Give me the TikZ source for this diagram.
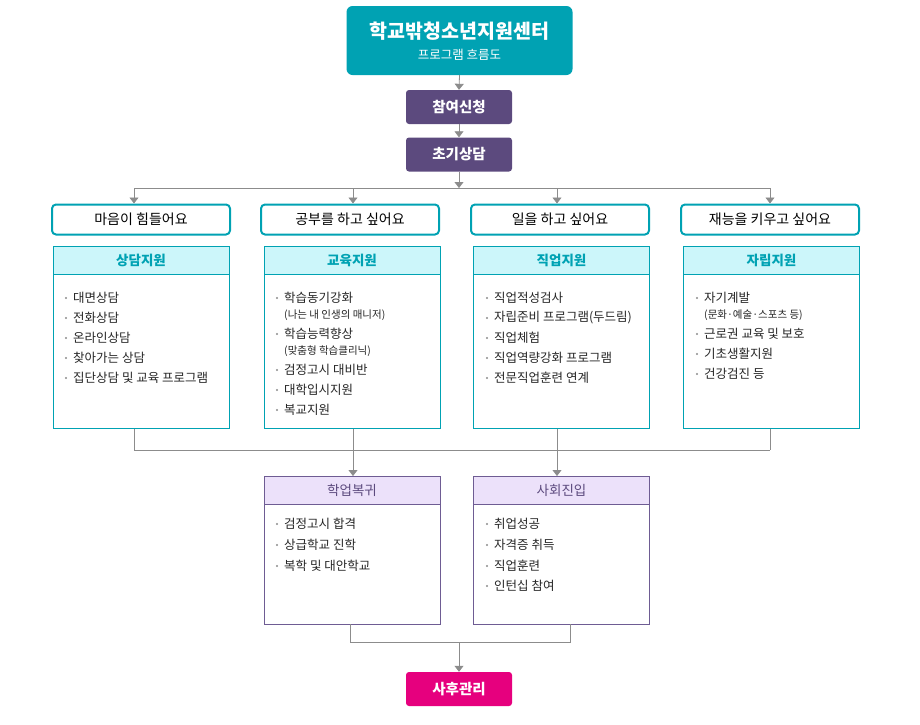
\documentclass[tikz,border=0pt]{standalone}
\usepackage{fontspec}
\setmainfont{Noto Sans CJK KR}
\usetikzlibrary{arrows.meta}
\definecolor{teal0}{HTML}{00A2B3}
\definecolor{cyanbg}{HTML}{CCF6FA}
\definecolor{purp0}{HTML}{5C4A7E}
\definecolor{purpline}{HTML}{6E5C93}
\definecolor{lavbg}{HTML}{ECE1FA}
\definecolor{pink0}{HTML}{E6007E}
\definecolor{linegray}{HTML}{8C8C8C}
\tikzset{
  step/.style={fill=#1, rounded corners=3pt, text=white, font=\bfseries\fontsize{14.5}{16}\selectfont,
    minimum width=106pt, minimum height=34pt, inner sep=0pt},
  ask/.style={draw=teal0, line width=2pt, fill=white, rounded corners=4pt,
    minimum width=178pt, minimum height=30pt, inner sep=0pt, font=\fontsize{14}{16}\selectfont},
  supp/.style={draw=#1, line width=0.8pt, fill=white, minimum width=176pt, minimum height=182pt,
    inner sep=0pt, anchor=north},
  head/.style={draw=#1, line width=0.8pt, minimum width=176pt, minimum height=28pt, inner sep=0pt,
    anchor=north, font=\bfseries\fontsize{13.5}{15}\selectfont},
  item/.style={anchor=west, inner sep=0pt, font=\fontsize{12.5}{14}\selectfont, text=black!85},
  note/.style={anchor=west, inner sep=0pt, font=\fontsize{10.5}{12}\selectfont, text=black!85},
  flow/.style={linegray, line width=0.8pt},
  tip/.style={flow, -{Triangle[length=6pt,width=9pt]}}
}
\begin{document}
\begin{tikzpicture}[x=1pt,y=-1pt]
  \useasboundingbox (0,0) rectangle (920,724);

  % Title and first steps
  \node[fill=teal0, rounded corners=6pt, minimum width=226pt, minimum height=69pt, inner sep=0pt]
    (title) at (459.5,40.5) {};
  \node[text=white, font=\bfseries\fontsize{19.5}{22}\selectfont] (titlea) at (459.5,31) {학교밖청소년지원센터};
  \node[text=white, font=\fontsize{12.5}{14}\selectfont] (titleb) at (459.5,55) {프로그램 흐름도};
  \node[step=purp0] (apply) at (459,107) {참여신청};
  \node[step=purp0] (first) at (459,154.5) {초기상담};
  \draw[tip] (title.south) -- (apply.north);
  \draw[tip] (apply.south) -- (first.north);

  % Question boxes
  \node[ask] (q1) at (141,219.5) {마음이 힘들어요};
  \node[ask] (q2) at (350,219.5) {공부를 하고 싶어요};
  \node[ask] (q3) at (560,219.5) {일을 하고 싶어요};
  \node[ask] (q4) at (770,219.5) {재능을 키우고 싶어요};

  % Branches
  \coordinate (split) at (459,188);
  \draw[tip] (first.south) -- (split);
  \draw[flow] (134,188) -- (770,188);
  \foreach \x/\q in {134/q1, 353/q2, 557/q3, 770/q4}
    \draw[tip] (\x,188) -- (\x,188 |- \q.north);

  % Support boxes
  \foreach \x/\n/\t in {141/s1/상담지원, 352/s2/교육지원, 561.5/s3/직업지원, 771.5/s4/자립지원} {
    \node[supp=teal0] (\n) at (\x,246) {};
    \node[head=teal0, fill=cyanbg, text=teal0] (\n h) at (\x,246) {\t};
  }

  % Items
  \foreach \y/\t [count=\i] in {298/대면상담, 318/전화상담, 338/온라인상담, 358/찾아가는 상담, 378/집단상담 및 교육 프로그램} {
    \fill[linegray] (66,\y) circle (1.1pt);
    \node[item] (s1i\i) at (73,\y) {\t};
  }
  \foreach \y/\t [count=\i] in {298/학습동기강화, 334/학습능력향상, 370/검정고시 대비반, 390/대학입시지원, 410/복교지원} {
    \fill[linegray] (277,\y) circle (1.1pt);
    \node[item] (s2i\i) at (284,\y) {\t};
  }
  \node[note] (s2n1) at (284,315) {(나는 내 인생의 매니저)};
  \node[note] (s2n2) at (284,351) {(맞춤형 학습클리닉)};
  \foreach \y/\t [count=\i] in {298/직업적성검사, 318/자립준비 프로그램(두드림), 338/직업체험, 358/직업역량강화 프로그램, 378/전문직업훈련 연계} {
    \fill[linegray] (487,\y) circle (1.1pt);
    \node[item] (s3i\i) at (494,\y) {\t};
  }
  \foreach \y/\t [count=\i] in {298/자기계발, 334/근로권 교육 및 보호, 354/기초생활지원, 374/건강검진 등} {
    \fill[linegray] (697,\y) circle (1.1pt);
    \node[item] (s4i\i) at (704,\y) {\t};
  }
  \node[note] (s4n1) at (704,315) {(문화·예술·스포츠 등)};

  % Merge to outcomes
  \node[supp=purpline, minimum height=148pt] (o1) at (352,476) {};
  \node[head=purpline, fill=lavbg, text=purp0, font=\fontsize{13.5}{15}\selectfont] (o1h) at (352,476) {학업복귀};
  \node[supp=purpline, minimum height=148pt] (o2) at (561.5,476) {};
  \node[head=purpline, fill=lavbg, text=purp0, font=\fontsize{13.5}{15}\selectfont] (o2h) at (561.5,476) {사회진입};
  \foreach \x/\n in {134/s1, 353/s2, 557/s3, 770/s4}
    \draw[flow] (\x,0 |- \n.south) -- (\x,450);
  \draw[flow] (134,450) -- (770,450);
  \draw[tip] (353,450) -- (353,476);
  \draw[tip] (557,450) -- (557,476);

  \foreach \y/\t [count=\i] in {524/검정고시 합격, 545/상급학교 진학, 566/복학 및 대안학교} {
    \fill[linegray] (277,\y) circle (1.1pt);
    \node[item] (o1i\i) at (284,\y) {\t};
  }
  \foreach \y/\t [count=\i] in {524/취업성공, 545/자격증 취득, 566/직업훈련, 586/인턴십 참여} {
    \fill[linegray] (487,\y) circle (1.1pt);
    \node[item] (o2i\i) at (494,\y) {\t};
  }

  % Follow-up
  \node[step=pink0] (after) at (459,689) {사후관리};
  \coordinate (join) at (459,642);
  \draw[flow] (350,624) -- (350,642) -- (570,642) -- (570,624);
  \draw[tip] (join) -- (after.north);
\end{tikzpicture}
\end{document}
